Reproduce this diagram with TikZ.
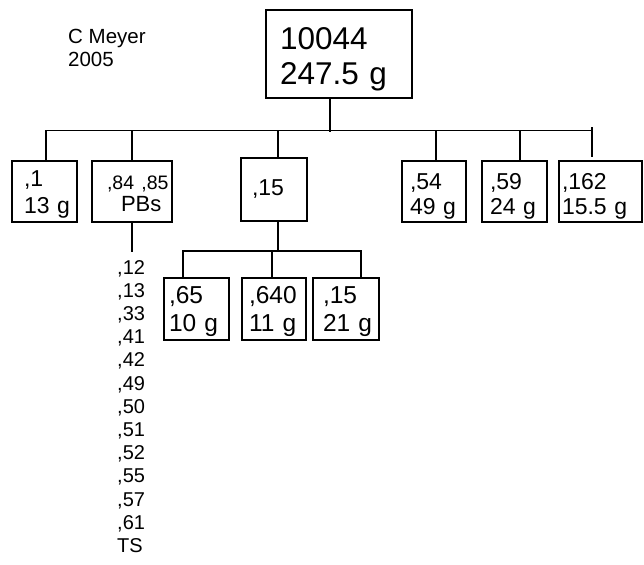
\documentclass[tikz,border=0pt]{standalone}
\usepackage{fontspec}
\setmainfont{Liberation Sans}
\newcommand\liftto[1]{\rule{0pt}{#1pt}}
\begin{document}
\begin{tikzpicture}[x=1pt,y=-1pt,
  bx/.style={draw, line width=1.1pt, inner ysep=0pt, align=left},
  ln/.style={line width=1.1pt},
  sm/.style={font=\fontsize{23}{27}\selectfont},
  md/.style={font=\fontsize{23}{25}\selectfont},
  lg/.style={font=\fontsize{24.5}{28}\selectfont}]
\useasboundingbox (0,0) rectangle (644,564);
% top
\node[bx, font=\fontsize{31.5}{35}\selectfont, minimum width=146pt, minimum height=88pt, text width=118pt, inner xsep=14pt] (n0) at (339,54) {\liftto{32.6}10044\\247.5~g};
\node[anchor=north west, inner sep=0pt, align=left, font=\fontsize{20.5}{23}\selectfont] (auth) at (68,29) {C Meyer\\2005};
% level 1
\node[bx, sm, minimum width=65pt, minimum height=61pt, text width=41pt, inner xsep=12pt] (n1) at (44.5,191.5) {\liftto{22.5},1\\13~g};
\node[bx, minimum width=80pt, minimum height=61pt, text width=50pt, inner xsep=15pt, font=\fontsize{22}{21.6}\selectfont] (n2) at (132,191.5) {\liftto{18}{\fontsize{19.5}{21.6}\selectfont ,84~,85}\\\hspace*{14pt}PBs};
\node[bx, md, minimum width=66pt, minimum height=63pt, text width=44pt, inner xsep=11pt] (n3) at (274,189.5) {,15};
\node[bx, md, minimum width=64pt, minimum height=61pt, text width=48pt, inner xsep=8pt] (n4) at (434,191.5) {\liftto{25},54\\49~g};
\node[bx, md, minimum width=65pt, minimum height=61pt, text width=49pt, inner xsep=8pt] (n5) at (514.5,191.5) {\liftto{25},59\\24~g};
\node[bx, md, minimum width=83pt, minimum height=61pt, text width=77pt, inner xsep=3pt] (n6) at (600.5,191.5) {\liftto{25},162\\15.5~g};
% level 2
\node[bx, lg, minimum width=65pt, minimum height=62pt, text width=55pt, inner xsep=5pt] (m1) at (196.5,309) {\liftto{22.5},65\\10~g};
\node[bx, lg, minimum width=64pt, minimum height=62pt, text width=50pt, inner xsep=7pt] (m2) at (274,309) {\liftto{22.5},640\\11~g};
\node[bx, lg, minimum width=66pt, minimum height=62pt, text width=46pt, inner xsep=10pt] (m3) at (346,309) {\liftto{22.5},15\\21~g};
% list
\node[anchor=north west, inner sep=0pt, align=left, font=\fontsize{20}{23.2}\selectfont] (lst) at (117,260) {,12\\,13\\,33\\,41\\,42\\,49\\,50\\,51\\,52\\,55\\,57\\,61\\TS};
% connectors
\coordinate (t0) at (330,132.5);
\coordinate (d1) at (46,130.5);
\coordinate (d2) at (132,130.5);
\coordinate (d3) at (278,130.5);
\coordinate (d4) at (436,130.5);
\coordinate (d5) at (520,130.5);
\coordinate (d6a) at (592,127.5);
\coordinate (d6b) at (592,157);
\coordinate (br) at (592,130.5);
\draw[ln] (t0 |- n0.south) -- (t0);
\draw[ln] (d1 |- n1.north) -- (d1) -- (br);
\draw[ln] (d2) -- (d2 |- n2.north);
\draw[ln] (d3) -- (d3 |- n3.north);
\draw[ln] (d4) -- (d4 |- n4.north);
\draw[ln] (d5) -- (d5 |- n5.north);
\draw[ln] (d6a) -- (d6b);
\coordinate (pe) at (132,252);
\draw[ln] (n2.south) -- (pe);
\coordinate (s3) at (278,251);
\coordinate (e1) at (183,251);
\coordinate (e2) at (272,251);
\coordinate (e3) at (361,251);
\draw[ln] (s3 |- n3.south) -- (s3);
\draw[ln] (e1 |- m1.north) -- (e1) -- (e3) -- (e3 |- m3.north);
\draw[ln] (e2) -- (e2 |- m2.north);
\end{tikzpicture}
\end{document}
